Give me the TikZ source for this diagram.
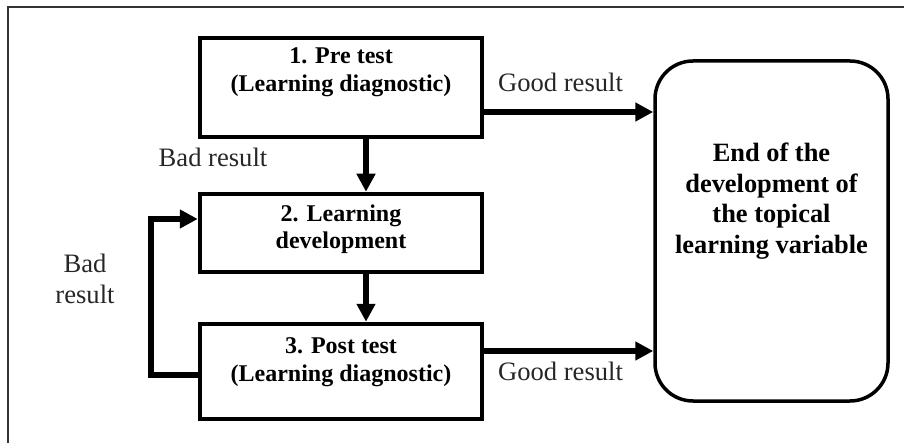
\documentclass[tikz,border=0pt]{standalone}
\usepackage{fontspec}
\setmainfont{Liberation Serif}
\usetikzlibrary{arrows.meta}
\begin{document}
\begin{tikzpicture}[x=0.5pt,y=-0.5pt,
        stepbox/.style={draw, line width=2.25pt, minimum width=141pt, inner sep=0pt},
        endbox/.style={draw, line width=1.75pt, rounded corners=19pt, minimum width=116.5pt, minimum height=170pt, inner sep=0pt},
        boxtext/.style={align=center, font=\fontsize{12}{13.75}\selectfont\bfseries},
        endlabel/.style={align=center, font=\fontsize{13.2}{15.35}\selectfont\bfseries},
        result/.style={align=center, font=\fontsize{13.3}{15.5}\selectfont, text=black!85},
        flow/.style={line width=3.2pt, -{Triangle[length=9pt,width=9pt]}}]
    \useasboundingbox (0,0) rectangle (904,443);
    \draw[black!80, line width=0.6pt] (8,443) -- (8,7) -- (904,7);
    % boxes
    \node[stepbox, minimum height=49.5pt] (pre) at (341,87.5) {};
    \node[stepbox, minimum height=39pt] (dev) at (341,233) {};
    \node[stepbox, minimum height=47.5pt] (post) at (341,371.5) {};
    \node[endbox] (end) at (771.5,231) {};
    \node[boxtext] (pretext) at (341,72) {1. Pre test\\(Learning diagnostic)};
    \node[boxtext] (devtext) at (341,229) {2. Learning\\development};
    \node[boxtext] (posttext) at (341,362) {3. Post test\\(Learning diagnostic)};
    \node[endlabel] (endtext) at (771.5,201) {End of the\\development of\\the topical\\learning variable};
    % results
    \node[result, anchor=base] (good1) at (560.5,92) {Good result};
    \node[result, anchor=base] (good2) at (560.5,380) {Good result};
    \node[result, anchor=base] (bad1) at (213,167) {Bad result};
    \node[result] (bad2) at (85,279) {Bad\\result};
    % arrows
    \draw[flow] ([yshift=-12.25pt]pre.east) -- ([yshift=-12.25pt]pre.east -| end.west);
    \draw[flow] ([yshift=10.25pt]post.east) -- ([yshift=10.25pt]post.east -| end.west);
    \draw[flow] ([xshift=12.5pt]pre.south) -- ([xshift=12.5pt]dev.north);
    \draw[flow] ([xshift=12.5pt]dev.south) -- ([xshift=12.5pt]post.north);
    \draw[flow] ([yshift=-1.75pt]post.west) -- ++(-47,0) |- ([yshift=7pt]dev.west);
\end{tikzpicture}
\end{document}
